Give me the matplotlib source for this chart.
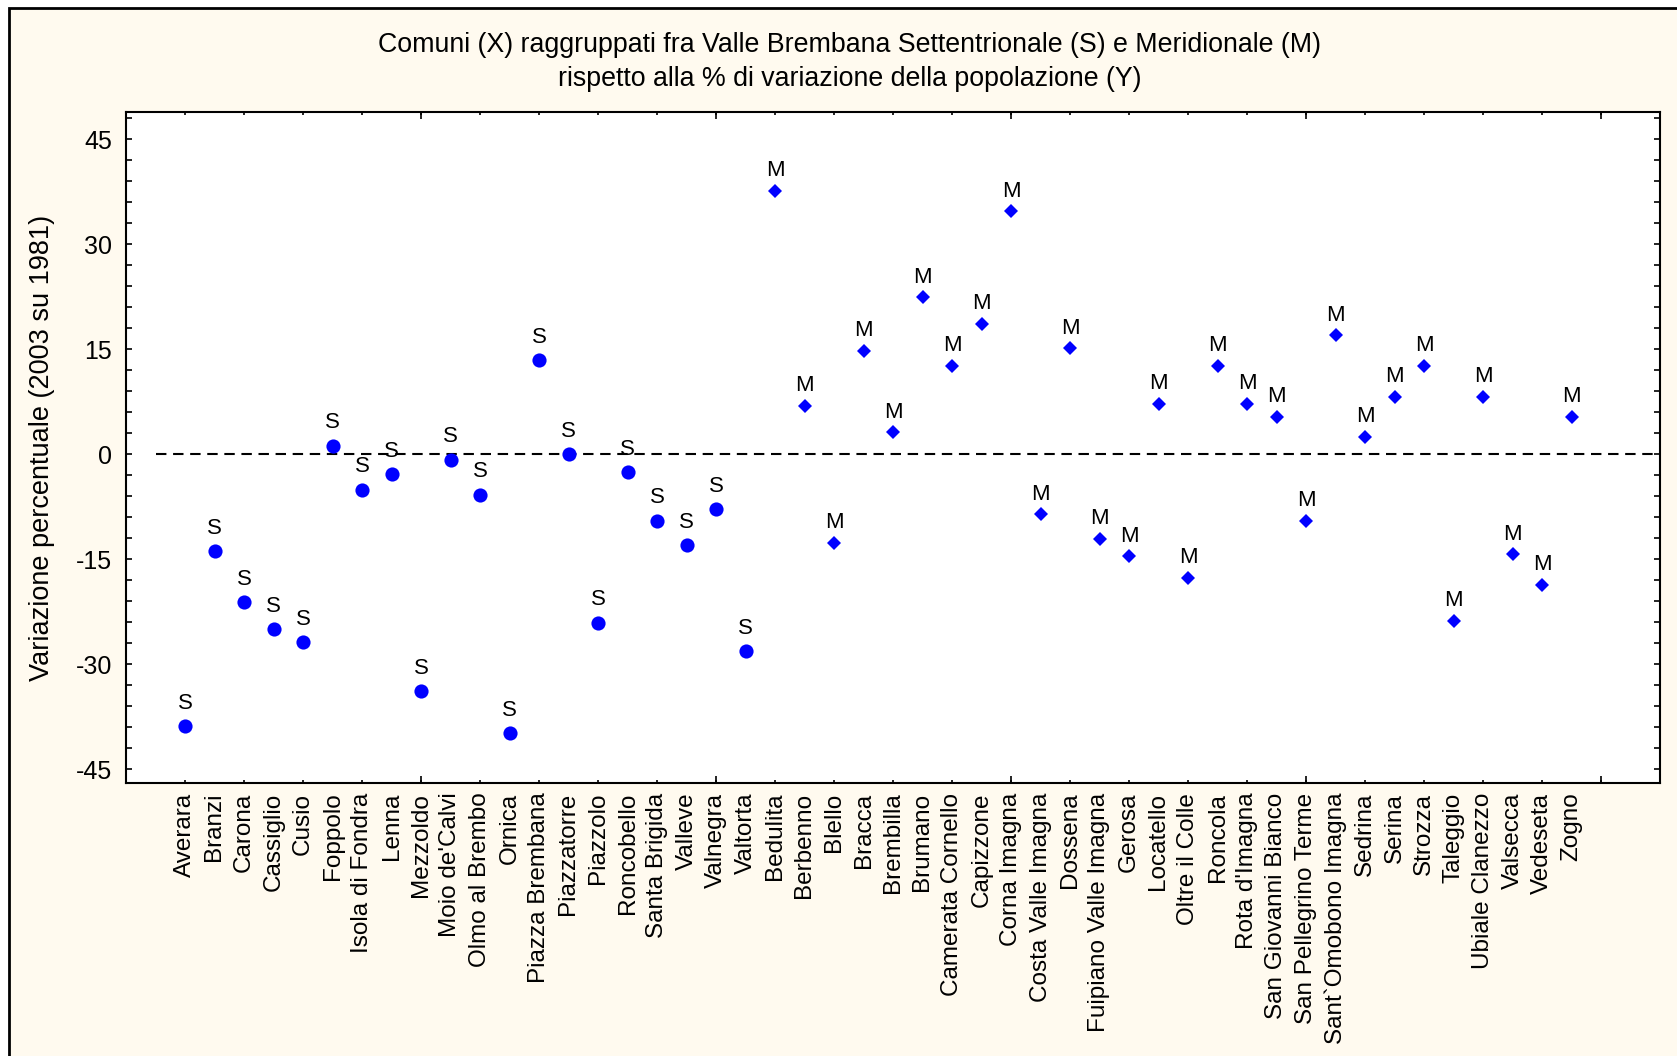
import matplotlib
matplotlib.use("Agg")
import matplotlib.pyplot as plt
from matplotlib.patches import Rectangle
from matplotlib.ticker import MultipleLocator, FixedLocator

plt.rcParams['font.family'] = ['Liberation Sans', 'DejaVu Sans']
plt.rcParams['axes.unicode_minus'] = False

# comuni della Valle Brembana Settentrionale (S)
comuni_s = ["Averara", "Branzi", "Carona", "Cassiglio", "Cusio", "Foppolo",
            "Isola di Fondra", "Lenna", "Mezzoldo", "Moio de'Calvi",
            "Olmo al Brembo", "Ornica", "Piazza Brembana", "Piazzatorre",
            "Piazzolo", "Roncobello", "Santa Brigida", "Valleve", "Valnegra",
            "Valtorta"]
var_s = [-38.9, -13.9, -21.2, -25.0, -26.9, 1.2, -5.1, -2.9, -33.9, -0.8,
         -5.8, -39.9, 13.4, 0.0, -24.1, -2.6, -9.5, -13.0, -7.9, -28.2]

# comuni della Valle Brembana Meridionale (M)
comuni_m = ["Bedulita", "Berbenno", "Blello", "Bracca", "Brembilla", "Brumano",
            "Camerata Cornello", "Capizzone", "Corna Imagna",
            "Costa Valle Imagna", "Dossena", "Fuipiano Valle Imagna", "Gerosa",
            "Locatello", "Oltre il Colle", "Roncola", "Rota d'Imagna",
            "San Giovanni Bianco", "San Pellegrino Terme",
            "Sant`Omobono Imagna", "Sedrina", "Serina", "Strozza", "Taleggio",
            "Ubiale Clanezzo", "Valsecca", "Vedeseta", "Zogno"]
var_m = [37.6, 6.9, -12.7, 14.8, 3.1, 22.4, 12.6, 18.6, 34.7, -8.6, 15.1,
         -12.1, -14.6, 7.2, -17.7, 12.6, 7.2, 5.3, -9.5, 17.0, 2.5, 8.2,
         12.6, -23.8, 8.2, -14.3, -18.7, 5.3]

# numero di caso (Averara = 2 ... Zogno = 49)
x_s = list(range(2, 2 + len(comuni_s)))
x_m = list(range(2 + len(comuni_s), 2 + len(comuni_s) + len(comuni_m)))

blu = '#0000FF'
crema = '#FFFAEF'

fig = plt.figure(figsize=(16.77, 10.56), dpi=100)
fig.patch.set_facecolor('white')
fig.patches.append(Rectangle((9 / 1677, -0.05), 1.2, 1.05 - 8 / 1056,
                             transform=fig.transFigure, facecolor=crema,
                             edgecolor='black', linewidth=2, zorder=-10))

ax = fig.add_axes([126 / 1677, 1 - 783 / 1056, 1534 / 1677, 671 / 1056])
ax.set_facecolor('white')

ax.hlines(0, 1, 52, colors='black', linestyles=(0, (5, 3.2)), linewidth=1.5, zorder=1)

ax.plot(x_s, var_s, 'o', color=blu, markersize=10.2, markeredgewidth=0, zorder=3)
ax.plot(x_m, var_m, 'D', color=blu, markersize=7.2, markeredgewidth=0, zorder=3)

for x, y in zip(x_s, var_s):
    ax.annotate('S', (x, y), xytext=(0, 12.5), textcoords='offset points',
                ha='center', va='baseline', fontsize=16)
for x, y in zip(x_m, var_m):
    ax.annotate('M', (x, y), xytext=(0, 10.5), textcoords='offset points',
                ha='center', va='baseline', fontsize=16)

ax.set_xlim(0, 52)
ax.set_ylim(-47, 48.9)

# tacche asse X (sopra e sotto)
ax.xaxis.set_major_locator(MultipleLocator(10))
ax.xaxis.set_minor_locator(MultipleLocator(2))
ax.xaxis.remove_overlapping_locs = False
ax.tick_params(axis='x', which='major', direction='in', length=5, width=1.2,
               top=True, bottom=True, labelbottom=False)
ax.tick_params(axis='x', which='minor', direction='in', length=2.5, width=1.2,
               top=True, bottom=True)

# nomi dei comuni
sec = ax.secondary_xaxis('bottom')
sec.spines['bottom'].set_visible(False)
sec.xaxis.set_major_locator(FixedLocator(x_s + x_m))
sec.set_xticklabels(comuni_s + comuni_m, rotation=90, fontsize=17.5)
sec.tick_params(axis='x', length=0, pad=7)

# asse Y
ax.yaxis.set_major_locator(MultipleLocator(15))
ax.yaxis.set_minor_locator(MultipleLocator(3))
ax.tick_params(axis='y', which='both', direction='in', length=4.5, width=1.2,
               left=True, right=True, labelsize=18, pad=10)
ax.set_ylabel('Variazione percentuale (2003 su 1981)', fontsize=19.5)
ax.yaxis.set_label_coords(-0.046, 0.5)

for s in ax.spines.values():
    s.set_linewidth(1.5)

fig.text(850 / 1677, 1 - 62 / 1056,
         'Comuni (X) raggruppati fra Valle Brembana Settentrionale (S) e Meridionale (M)\n'
         'rispetto alla % di variazione della popolazione (Y)',
         ha='center', va='center', fontsize=19.3, linespacing=1.45)

fig.savefig('out.png', dpi=100, facecolor=fig.get_facecolor())
